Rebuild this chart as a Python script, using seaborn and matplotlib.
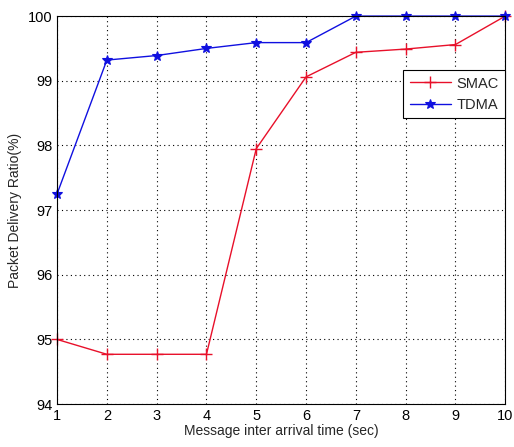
import pandas as pd
import matplotlib
matplotlib.use("Agg")
import matplotlib.pyplot as plt
import seaborn as sns

# values
arrival_time = [1, 2, 3, 4, 5, 6, 7, 8, 9, 10]
smac_pdr = [95.0, 94.77, 94.77, 94.77, 97.95, 99.06, 99.44, 99.49, 99.56, 100.0]
tdma_pdr = [97.25, 99.32, 99.39, 99.5, 99.59, 99.59, 100.0, 100.0, 100.0, 100.0]

sns.set_style("white")
plt.rcParams["font.family"] = ["Liberation Sans", "DejaVu Sans"]

fig = plt.figure(figsize=(5.14, 4.47), dpi=100)
ax = fig.add_axes([0.111, 0.096, 0.872, 0.868])

smac_col = "#e8102a"
tdma_col = "#1010e0"

# seaborn won't mix '+' and '*' in one style mapping, so draw each series on its own
sns.lineplot(x=arrival_time, y=smac_pdr, color=smac_col, marker="+", label="SMAC",
             ax=ax, linewidth=1.0, markersize=9, markeredgewidth=1.0,
             markeredgecolor=smac_col, clip_on=False)
sns.lineplot(x=arrival_time, y=tdma_pdr, color=tdma_col, marker="*", label="TDMA",
             ax=ax, linewidth=1.0, markersize=7, markeredgewidth=0.8,
             markeredgecolor=tdma_col, markerfacecolor=tdma_col, clip_on=False)

ax.set_xlim(1, 10)
ax.set_ylim(94, 100)
ax.set_xticks(range(1, 11))
ax.set_yticks(range(94, 101))
ax.grid(True, linestyle=(0, (1, 3)), color="black", linewidth=0.8)
for s in ax.spines.values():
    s.set_color("black")
    s.set_linewidth(0.8)
ax.tick_params(axis="both", direction="in", length=4, labelsize=10.5, colors="black")

ax.set_xlabel("Message inter arrival time (sec)", fontsize=10, labelpad=1)
ax.set_ylabel("Packet Delivery Ratio(%)", fontsize=10, labelpad=4)

leg = ax.legend(loc="upper right", bbox_to_anchor=(1.0, 0.861), borderaxespad=0,
                fancybox=False, framealpha=1, edgecolor="black", fontsize=10.5,
                handlelength=2.8, handletextpad=0.4, borderpad=0.45,
                labelspacing=0.5)
leg.get_frame().set_linewidth(0.8)

fig.savefig("out.png", dpi=100, facecolor="white")
